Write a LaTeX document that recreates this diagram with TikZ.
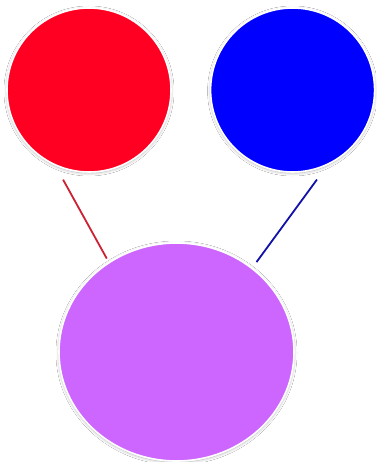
\documentclass[tikz,border=0pt]{standalone}
\usepackage{tikz}
\usepackage{xcolor}
\definecolor{RedFill}{RGB}{255,0,34}
\definecolor{BlueFill}{RGB}{0,0,255}
\definecolor{PurpleFill}{RGB}{204,102,255}
\definecolor{RedLine}{RGB}{204,34,51}
\definecolor{BlueLine}{RGB}{17,17,170}
\usetikzlibrary{positioning,shapes.geometric,shadows.blur}

\begin{document}
\begin{tikzpicture}[x=1pt, y=-1pt,
    glow/.style={blur shadow={shadow xshift=0pt, shadow yshift=-1pt, shadow scale=1,
              shadow blur radius=3pt, shadow opacity=30, shadow blur steps=12}},
    ball/.style={circle, draw=white, line width=1.6pt, minimum size=164pt, inner sep=0pt, glow},
    mix/.style={ellipse, draw=white, line width=1.6pt, minimum width=235pt, minimum height=218pt,
              inner sep=0pt, fill=PurpleFill, glow},
    ln/.style={line width=1.8pt}
]
    \useasboundingbox[fill=white] (0,0) rectangle (376,462);
    \node[ball, fill=RedFill] (red) at (89,90) {};
    \node[ball, fill=BlueFill, right=38pt of red] (blue) {};
    \node[mix] (purple) at (176.5,352) {};
    \draw[ln, RedLine, shorten <=16pt, shorten >=4pt] (red.246) -- (purple.127);
    \draw[ln, BlueLine, shorten <=18pt, shorten >=7pt] (blue.295) -- (purple.48);
\end{tikzpicture}
\end{document}
